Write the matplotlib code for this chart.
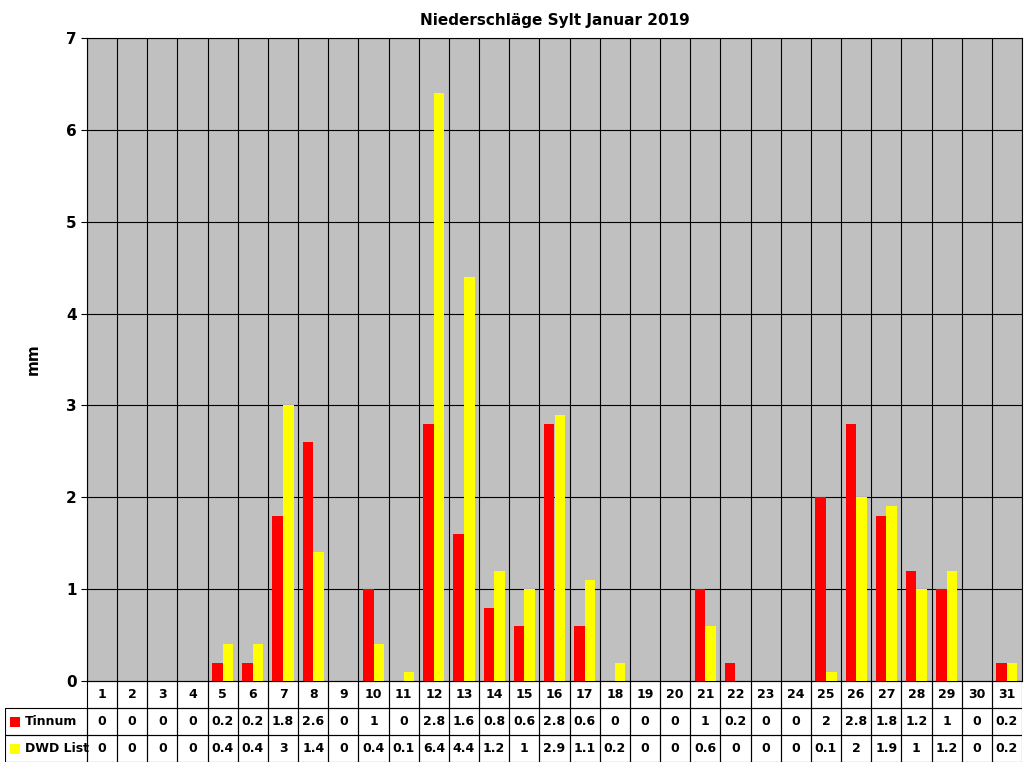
import matplotlib
matplotlib.use("Agg")
import matplotlib.pyplot as plt
import numpy as np
from matplotlib.patches import Rectangle

days = [str(i) for i in range(1, 32)]
tinnum = [0,0,0,0,0.2,0.2,1.8,2.6,0,1,0,2.8,1.6,0.8,0.6,2.8,0.6,0,0,0,1,0.2,0,0,2,2.8,1.8,1.2,1,0,0.2]
dwd = [0,0,0,0,0.4,0.4,3,1.4,0,0.4,0.1,6.4,4.4,1.2,1,2.9,1.1,0.2,0,0,0.6,0,0,0,0.1,2,1.9,1,1.2,0,0.2]
series_names = ["Tinnum", "DWD List"]
colors = ["#FF0000", "#FFFF00"]

W, H = 1024, 768
fig = plt.figure(figsize=(W/100, H/100), dpi=100)
L, R, T, B = 87, 1022, 38, 681
ax = fig.add_axes([L/W, 1-B/H, (R-L)/W, (B-T)/H])
ax.set_facecolor("#C0C0C0")
n = len(days)
x = np.arange(n)
bw = 0.35
ax.bar(x-bw/2, tinnum, bw, color=colors[0], zorder=3)
ax.bar(x+bw/2, dwd, bw, color=colors[1], zorder=3)
ax.set_xlim(-0.5, n-0.5)
ax.set_ylim(0, 7)
ax.set_yticks(range(8))
ax.set_xticks(np.arange(n+1)-0.5)
ax.set_xticklabels([])
ax.tick_params(axis='x', length=0)
ax.tick_params(axis='y', labelsize=11, length=4)
for lab in ax.get_yticklabels():
    lab.set_fontweight('bold')
ax.grid(True, color='black', linewidth=0.8, zorder=0)
ax.set_ylabel("mm", fontsize=11, fontweight='bold', labelpad=18)
for s in ax.spines.values():
    s.set_color('black')
fig.text((L+R)/2/W, 1-20/H, "Niederschläge Sylt Januar 2019", ha='center', va='center',
         fontsize=11, fontweight='bold')

# table
tL, tR, tT, tB = 5, 1022, 681, 762
tax = fig.add_axes([tL/W, 1-tB/H, (tR-tL)/W, (tB-tT)/H])
tax.set_xlim(tL, tR); tax.set_ylim(tB, tT); tax.axis('off')
colw = (R-L)/n
rows = [("", days), (series_names[0], tinnum), (series_names[1], dwd)]
rh = (tB-tT)/3
def fmt(v):
    return str(v) if not isinstance(v, (int, float)) else ('%g' % v)
for r, (name, vals) in enumerate(rows):
    y0 = tT + r*rh
    yc = y0 + rh/2
    if r > 0:
        tax.add_patch(Rectangle((tL, y0), L-tL, rh, fill=False, ec='black', lw=0.8))
        tax.add_patch(Rectangle((tL+5, yc-5), 10, 10, fc=colors[r-1], ec='none'))
        tax.text(tL+20, yc, name, va='center', ha='left', fontsize=9, fontweight='bold')
    for i, v in enumerate(vals):
        xc = L + (i+0.5)*colw
        tax.add_patch(Rectangle((L+i*colw, y0), colw, rh, fill=False, ec='black', lw=0.8))
        tax.text(xc, yc, fmt(v), ha='center', va='center', fontsize=9, fontweight='bold')

fig.savefig("out.png", dpi=100)
